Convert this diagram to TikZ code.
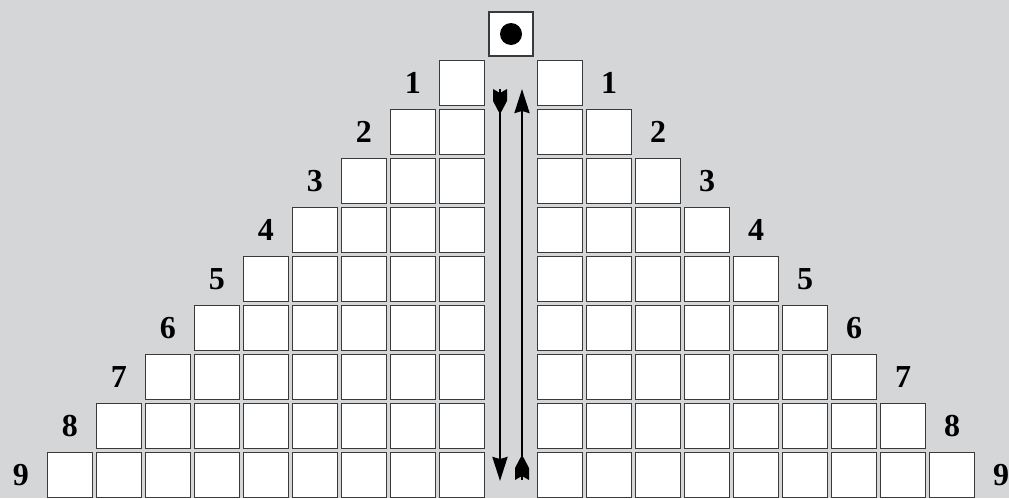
\documentclass[tikz,border=0pt]{standalone}
\usepackage{fontspec}
\setmainfont{Liberation Serif}
\usetikzlibrary{arrows.meta, positioning}
\definecolor{cbg}{HTML}{D5D6D8}
\definecolor{cedge}{HTML}{3A3A3A}
\tikzset{
  cell/.style={draw=cedge, fill=white, line width=1.3pt, minimum size=45pt, inner sep=0pt, outer sep=0pt},
  num/.style={font=\fontsize{32}{32}\selectfont\bfseries, inner sep=0pt},
  shaft/.style={line width=2.4pt, -{Stealth[length=24pt, width=15pt, inset=2pt]}},
  fletch/.pic={\fill (-7,0) -- (0,4) -- (7,0) -- (7,12) -- (1.2,23) -- (-1.2,23) -- (-7,12) -- cycle;},
}

\begin{document}
\begin{tikzpicture}[x=1pt, y=-1pt]
  \useasboundingbox (0,0) rectangle (1009,498);
  \fill[cbg] (0,0) rectangle (1009,498);
  % top square with the ball
  \node[cell, minimum size=44pt] (top) at (511,34) {};
  \fill (top.center) circle[radius=11];
  % the two staircases
  \foreach \k in {1,...,9} {
    \foreach \j in {1,...,\k} {
      \node[cell] (L-\k-\j) at ({461.8-(\j-1)*49},{83+(\k-1)*49}) {};
      \node[cell] (R-\k-\j) at ({560.2+(\j-1)*49},{83+(\k-1)*49}) {};
    }
    \node[num] (numL-\k) at ({461.8-\k*49},{83+(\k-1)*49}) {\k};
    \node[num] (numR-\k) at ({560.2+\k*49},{83+(\k-1)*49}) {\k};
  }
  % arrows down and up
  \coordinate (dnTail) at (500,89);
  \coordinate (dnTip) at (500,481);
  \coordinate (upTail) at (522,480);
  \coordinate (upTip) at (522,89);
  \draw[shaft] (dnTail) -- (dnTip);
  \draw[shaft] (upTail) -- (upTip);
  \pic at (dnTail) {fletch};
  \pic[rotate=180] at (upTail) {fletch};
\end{tikzpicture}
\end{document}
